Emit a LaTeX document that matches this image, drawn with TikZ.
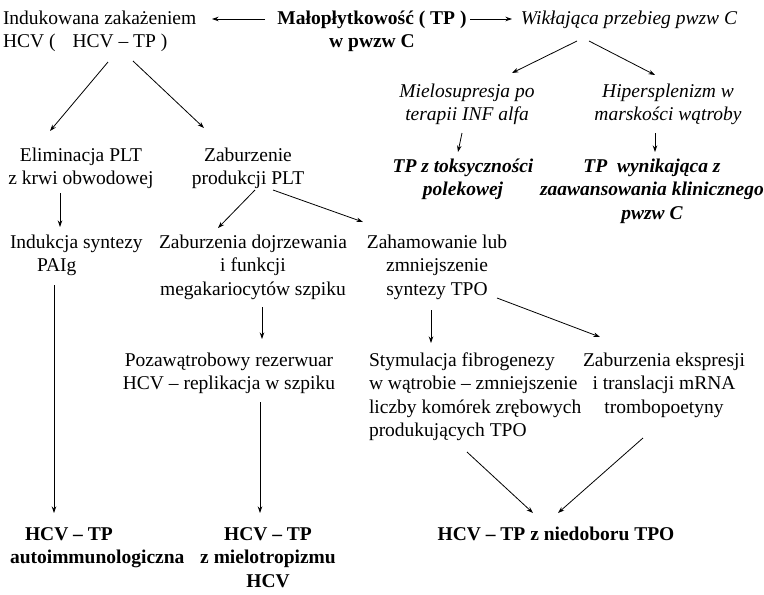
\documentclass[tikz,border=0pt]{standalone}
\usepackage{fontspec}
\setmainfont{Liberation Serif}
\usetikzlibrary{arrows.meta}
\begin{document}
\begin{tikzpicture}[x=1pt,y=-1pt,
  txt/.style={inner sep=0pt,outer sep=0pt,align=center,anchor=north,font=\fontsize{19.5pt}{23.5pt}\selectfont},
  ltxt/.style={txt,align=left,anchor=north west},
  bf/.style={font=\fontsize{19.5pt}{23.5pt}\selectfont\bfseries},
  it/.style={font=\fontsize{19.5pt}{23.5pt}\selectfont\itshape},
  bi/.style={font=\fontsize{19.5pt}{23.5pt}\selectfont\bfseries\itshape},
  arr/.style={draw=black,line width=0.8pt,-{Stealth[length=6.5pt,width=4.5pt]}}]
\fill[white] (0,0) rectangle (764,595);
\useasboundingbox (0,0) rectangle (764,595);
% row 1
\node[ltxt] (ind) at (3,7.55) {\strut Indukowana zakażeniem\\HCV (\hspace{17pt}HCV – TP )\strut};
\node[txt,bf] (mal) at (372,7.55) {\strut Małopłytkowość ( TP )\\w pwzw C\strut};
\node[txt,it] (wik) at (629,7.55) {\strut Wikłająca przebieg pwzw C};
% row 2
\node[txt] (eli) at (81,144.55) {\strut Eliminacja PLT\\z krwi obwodowej\strut};
\node[txt] (zab) at (248,144.55) {\strut Zaburzenie\\produkcji PLT\strut};
\node[txt,it] (mie) at (467,80.55) {\strut Mielosupresja po\\terapii INF alfa\strut};
\node[txt,it] (hip) at (668,80.55) {\strut Hipersplenizm w\\marskości wątroby\strut};
\node[txt,bi] (tox) at (463,155.55) {\strut TP z toksyczności\\polekowej\strut};
\node[txt,bi] (wyn) at (652,155.55) {\strut TP\ \ wynikająca z\\zaawansowania klinicznego\\pwzw C\strut};
% row 3
\node[ltxt] (indk) at (10,231.55) {\strut Indukcja syntezy\\\hspace*{27pt}PAIg\strut};
\node[txt] (zdoj) at (253,231.55) {\strut Zaburzenia dojrzewania\\i funkcji\\megakariocytów szpiku\strut};
\node[txt] (zah) at (437,231.55) {\strut Zahamowanie lub\\zmniejszenie\\syntezy TPO\strut};
% row 4
\node[txt] (poza) at (229,349.55) {\strut Pozawątrobowy rezerwuar\\HCV – replikacja w szpiku\strut};
\node[ltxt] (stym) at (369,349.55) {\strut Stymulacja fibrogenezy\\w wątrobie – zmniejszenie\\liczby komórek zrębowych\\produkujących TPO\strut};
\node[txt] (ekspr) at (664,349.55) {\strut Zaburzenia ekspresji\\i translacji mRNA\\trombopoetyny\strut};
% row 5
\node[ltxt,bf] (hcva) at (10,523.55) {\strut\hspace*{15pt}HCV – TP\\autoimmunologiczna\strut};
\node[txt,bf] (hcvb) at (268,523.55) {\strut HCV – TP\\z mielotropizmu\\HCV\strut};
\node[txt,bf] (nied) at (556,523.55) {\strut HCV – TP z niedoboru TPO};
% connectors
\draw[arr] ([xshift=-107pt,yshift=-11.45pt]mal.north) -- ([xshift=209pt,yshift=-11.45pt]ind.north west);
\draw[arr] ([xshift=98pt,yshift=-11.45pt]mal.north) -- ([xshift=-117pt,yshift=-11.45pt]wik.north);
\draw[arr] ([xshift=105pt,yshift=-7.45pt]ind.south west) -- ([xshift=-31pt,yshift=13.55pt]eli.north);
\draw[arr] ([xshift=130pt,yshift=-6.45pt]ind.south west) -- ([xshift=-44pt,yshift=16.55pt]zab.north);
\draw[arr] ([xshift=-52pt,yshift=-9.95pt]wik.south) -- ([xshift=45pt,yshift=7.55pt]mie.north);
\draw[arr] ([xshift=-40pt,yshift=-9.95pt]wik.south) -- ([xshift=-13pt,yshift=5.55pt]hip.north);
\draw[arr] ([xshift=-5pt,yshift=-5.45pt]mie.south) -- ([xshift=-5pt,yshift=3.55pt]tox.north);
\draw[arr] ([xshift=-13pt,yshift=-5.45pt]hip.south) -- ([xshift=3pt,yshift=3.55pt]wyn.north);
\draw[arr] ([xshift=-21pt,yshift=-1.45pt]eli.south) -- ([xshift=50pt,yshift=4.55pt]indk.north west);
\draw[arr] ([xshift=7pt,yshift=1.55pt]zab.south) -- ([xshift=-35pt,yshift=3.55pt]zdoj.north);
\draw[arr] ([xshift=25pt,yshift=1.55pt]zab.south) -- ([xshift=-74pt,yshift=9.55pt]zah.north);
\draw[arr] ([xshift=44pt,yshift=-6.45pt]indk.south west) -- ([xshift=44pt,yshift=10.55pt]hcva.north west);
\draw[arr] ([xshift=9pt,yshift=-4.95pt]zdoj.south) -- ([xshift=33pt,yshift=10.55pt]poza.north);
\draw[arr] ([xshift=-6pt,yshift=-7.95pt]zah.south) -- ([xshift=62pt,yshift=6.55pt]stym.north west);
\draw[arr] ([xshift=60pt,yshift=4.05pt]zah.south) -- ([xshift=-64pt,yshift=12.55pt]ekspr.north);
\draw[arr] ([xshift=31pt,yshift=-5.45pt]poza.south) -- ([xshift=-8pt,yshift=10.55pt]hcvb.north);
\draw[arr] ([xshift=98pt,yshift=-8.45pt]stym.south west) -- ([xshift=-23pt,yshift=10.55pt]nied.north);
\draw[arr] ([xshift=-21pt,yshift=-17.95pt]ekspr.south) -- ([xshift=2pt,yshift=10.55pt]nied.north);
\end{tikzpicture}
\end{document}
